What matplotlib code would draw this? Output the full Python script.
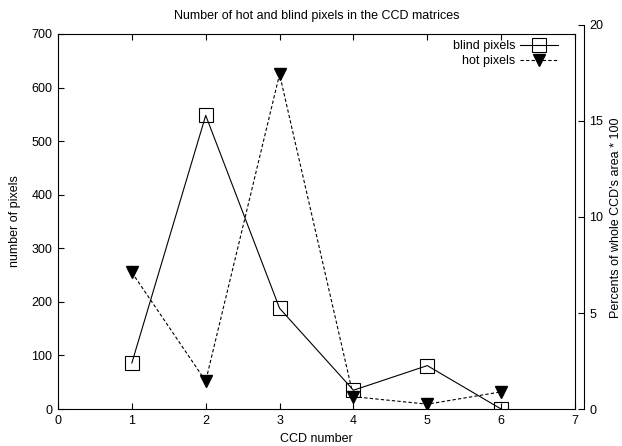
import matplotlib
matplotlib.use('Agg')
import matplotlib.pyplot as plt

plt.rcParams['font.family'] = ['Liberation Sans', 'DejaVu Sans']
plt.rcParams['font.size'] = 9

ccd = [1, 2, 3, 4, 5, 6]
blind_pixels = [86, 548, 188, 35, 81, 0]
hot_pixels = [255, 52, 625, 23, 9, 32]

x_ticks = [0, 1, 2, 3, 4, 5, 6, 7]
y_ticks = [0, 100, 200, 300, 400, 500, 600, 700]
y2_ticks = [0, 5, 10, 15, 20]

fig = plt.figure(figsize=(6.22, 4.46), dpi=100)
ax = fig.add_axes([58 / 622, 37 / 446, 517 / 622, 375 / 446])

ax.plot(ccd, blind_pixels, color='black', lw=0.8, marker='s', ms=10,
        mfc='none', mec='black', mew=0.8, label='blind pixels')
ax.plot(ccd, hot_pixels, color='black', lw=0.8, ls=(0, (3, 2)), marker='v',
        ms=9, mfc='black', mec='black', label='hot pixels')

ax.set_xlim(0, 7)
ax.set_ylim(0, 700)
ax.set_xticks(x_ticks)
ax.set_yticks(y_ticks)
ax.tick_params(direction='in', length=4.5, width=0.8, top=True, right=False, pad=4)
for s in ax.spines.values():
    s.set_linewidth(0.8)

ax.set_title('Number of hot and blind pixels in the CCD matrices', fontsize=9, pad=11)
ax.set_xlabel('CCD number')
ax.xaxis.set_label_coords(0.5, -0.063)
fig.text(15 / 622, 1 - 221 / 446, 'number of pixels', rotation=90,
         ha='center', va='center')

leg = ax.legend(loc='upper right', bbox_to_anchor=((564 - 58) / 517, 1.0),
                frameon=False, markerfirst=False, borderpad=0,
                handlelength=3.0, labelspacing=0.22, handletextpad=0.4)

# separate right axis for percentages
ax2 = fig.add_axes([583 / 622, 37 / 446, 0.001, 384 / 446])
ax2.patch.set_visible(False)
for name in ['left', 'top', 'bottom']:
    ax2.spines[name].set_visible(False)
ax2.spines['right'].set_linewidth(0.8)
ax2.set_xticks([])
ax2.set_ylim(0, 20)
ax2.set_yticks(y2_ticks)
ax2.yaxis.tick_right()
ax2.tick_params(axis='y', direction='in', length=4.5, width=0.8, pad=4)
fig.text(616 / 622, 1 - 218 / 446, "Percents of whole CCD's area * 100",
         rotation=90, ha='center', va='center')

fig.savefig('out.png', dpi=100)
